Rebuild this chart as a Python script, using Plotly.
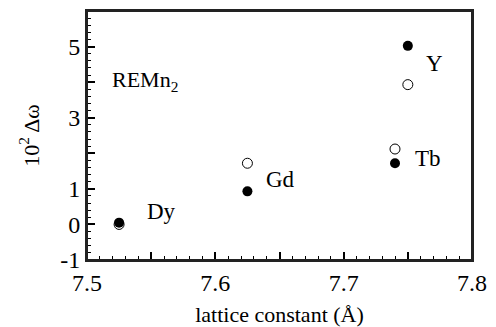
import plotly.graph_objects as go

elements = ["Dy", "Gd", "Tb", "Y"]
lattice = [7.525, 7.625, 7.74, 7.75]
filled_vals = [0.05, 0.93, 1.72, 5.02]
open_vals = [0.0, 1.72, 2.12, 3.93]

label_x = [7.558, 7.651, 7.766, 7.771]
label_y = [0.36, 1.26, 1.86, 4.53]

xtick_vals = [7.5, 7.55, 7.6, 7.65, 7.7, 7.75, 7.8]
xtick_text = ["7.5", " ", "7.6", " ", "7.7", " ", "7.8"]
ytick_vals = [-1, 0, 1, 2, 3, 4, 5, 6]
ytick_text = ["-1", "0", "1", " ", "3", " ", "5", " "]

font = "Liberation Serif"
xr = [7.5, 7.8]
yr = [-1, 6]

fig = go.Figure()
fig.add_trace(go.Scatter(x=[7.6], y=[None], xaxis="x2", yaxis="y2", mode="markers",
                         showlegend=False, hoverinfo="skip"))
fig.add_trace(go.Scatter(x=lattice, y=open_vals, mode="markers",
                         marker=dict(symbol="circle-open", size=10, color="black",
                                     line=dict(width=1, color="black")),
                         showlegend=False, cliponaxis=False))
fig.add_trace(go.Scatter(x=lattice, y=filled_vals, mode="markers",
                         marker=dict(symbol="circle", size=10, color="black"),
                         showlegend=False, cliponaxis=False))

for name, lx, ly in zip(elements, label_x, label_y):
    fig.add_annotation(x=lx, y=ly, text=name, showarrow=False,
                       font=dict(family=font, size=23, color="black"))
fig.add_annotation(x=7.545, y=4.04, text="REMn<sub>2</sub>", showarrow=False,
                   font=dict(family=font, size=22, color="black"))

# plot frame (transparent box)
fig.add_shape(type="rect", xref="paper", yref="paper", x0=0, y0=0, x1=1, y1=1,
              line=dict(color="#222", width=2), fillcolor="rgba(0,0,0,0)", opacity=1,
              layer="above")

fig.update_layout(
    template="simple_white", width=488, height=319,
    margin=dict(l=79, r=24, t=1, b=64),
    plot_bgcolor="white", paper_bgcolor="white",
    xaxis=dict(range=xr, tickmode="array", tickvals=xtick_vals, ticktext=xtick_text,
               ticks="inside", ticklen=8, tickwidth=2, tickcolor="black",
               showline=True, linecolor="#222", linewidth=2, mirror=True,
               showgrid=False, zeroline=False,
               tickfont=dict(family=font, size=24, color="black"),
               title=dict(text="lattice constant (Å)",
                          font=dict(family=font, size=22, color="black"))),
    yaxis=dict(range=yr, tickmode="array", tickvals=ytick_vals, ticktext=ytick_text,
               ticks="inside", ticklen=8, tickwidth=2, tickcolor="black",
               showline=True, linecolor="#222", linewidth=2, mirror=True,
               showgrid=False, zeroline=False,
               tickfont=dict(family=font, size=24, color="black"),
               title=dict(text="10<sup>2</sup> Δω",
                          font=dict(family=font, size=22, color="black"))),
    xaxis2=dict(range=xr, overlaying="x", anchor="y", side="bottom",
                tickmode="linear", tick0=7.5, dtick=0.01,
                ticks="inside", ticklen=4, tickwidth=1, tickcolor="black",
                showticklabels=False, showline=False, showgrid=False, zeroline=False),
    yaxis2=dict(range=yr, overlaying="y", anchor="x", side="left",
                tickmode="linear", tick0=-1, dtick=0.2,
                ticks="inside", ticklen=4, tickwidth=1, tickcolor="black",
                showticklabels=False, showline=False, showgrid=False, zeroline=False),
)

fig.write_html("out.html")
